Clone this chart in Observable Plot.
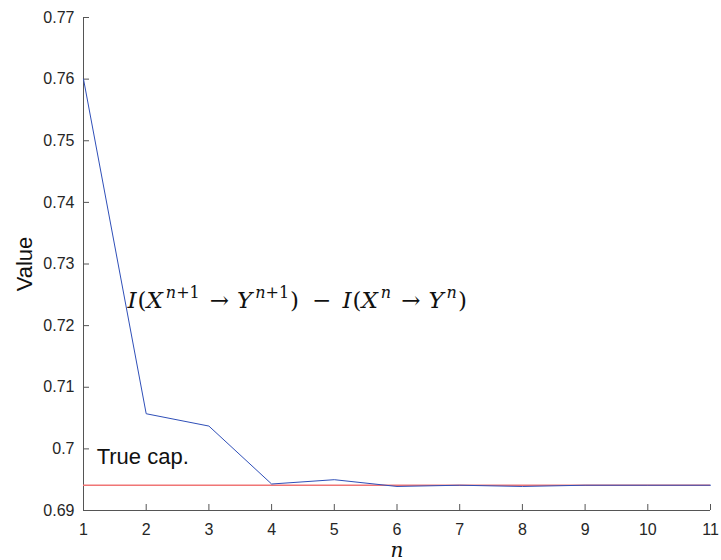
<!DOCTYPE html>
<html>
<head>
<meta charset="utf-8">
<script src="https://cdn.jsdelivr.net/npm/d3@7"></script>
<script src="https://cdn.jsdelivr.net/npm/@observablehq/plot@0.6"></script>
<style>
  html, body { margin: 0; padding: 0; background: #fff; }
  #chart svg { display: block; }
</style>
</head>
<body>
<div id="chart"></div>
<script>
// ---- data ----
const n = [1, 2, 3, 4, 5, 6, 7, 8, 9, 10, 11];
const value = [0.7600, 0.7057, 0.7037, 0.6943, 0.6950, 0.6939, 0.6941, 0.6939, 0.6941, 0.6941, 0.6941];
const trueCap = 0.6941;
const xTicks = [1, 2, 3, 4, 5, 6, 7, 8, 9, 10, 11];
const yTicks = [0.69, 0.70, 0.71, 0.72, 0.73, 0.74, 0.75, 0.76, 0.77];
const yTickLabels = ["0.69", "0.7", "0.71", "0.72", "0.73", "0.74", "0.75", "0.76", "0.77"];
const xLabel = "n";
const yLabel = "Value";
const capLabel = "True cap.";
const formulaPlain = "I(X^{n+1} → Y^{n+1}) − I(X^n → Y^n)";

const series = n.map((x, i) => ({n: x, value: value[i]}));
const axisColor = "#555";
const textColor = "#262626";
const blue = "#2f4fb8";
const red = "#f07575";
const serif = "'DejaVu Serif', 'Liberation Serif', serif";
const W = 721, H = 560, ML = 83, MR = 11, MT = 17, MB = 50;
const tickLen = 6;

const chart = Plot.plot({
  width: W,
  height: H,
  marginLeft: ML,
  marginRight: MR,
  marginTop: MT,
  marginBottom: MB,
  style: {fontFamily: "'Liberation Sans', Arial, sans-serif", fontSize: "16px", color: textColor, background: "#fff"},
  x: {domain: [1, 11], label: null},
  y: {domain: [0.69, 0.77], label: null},
  marks: [
    // axis lines
    Plot.ruleX([1], {stroke: axisColor, strokeWidth: 1}),
    Plot.ruleY([0.69], {stroke: axisColor, strokeWidth: 1}),
    // inward tick marks (rule from the top of the frame, inset down to a short tick)
    Plot.ruleX(xTicks, {x: d => d, y1: 0.77, y2: 0.69, insetTop: H - MT - MB - tickLen, stroke: axisColor, strokeWidth: 1}),
    Plot.ruleY(yTicks, {y: d => d, x1: 1, x2: 11, insetRight: W - ML - MR - tickLen, stroke: axisColor, strokeWidth: 1}),
    // tick labels
    Plot.axisX({ticks: xTicks, tickSize: 0, tickPadding: 13, tickFormat: d => String(d), fill: textColor, fontSize: 16, label: null}),
    Plot.axisY({ticks: yTicks, tickSize: 0, tickPadding: 9, tickFormat: d => yTickLabels[yTicks.findIndex(t => Math.abs(t - d) < 1e-9)], fill: textColor, fontSize: 16, label: null}),
    Plot.ruleY([trueCap], {x1: 1, x2: 11, stroke: red, strokeWidth: 1.5}),
    Plot.line(series, {x: "n", y: "value", stroke: blue, strokeWidth: 1}),
    Plot.text([capLabel], {x: 1.21, y: 0.6975, text: d => d, textAnchor: "start", lineAnchor: "bottom", fontSize: 22, fill: "#111"}),
    Plot.text([formulaPlain], {x: 1.70, y: 0.7228, text: d => d, textAnchor: "start", lineAnchor: "bottom", fontSize: 23, fill: "#111", fontFamily: serif}),
    Plot.text([yLabel], {frameAnchor: "left", dx: -52, text: d => d, rotate: -90, textAnchor: "middle", lineAnchor: "bottom", fontSize: 22, fill: "#111"}),
    Plot.text([xLabel], {frameAnchor: "bottom", dy: 46, text: d => d, textAnchor: "middle", lineAnchor: "bottom", fontSize: 20, fill: "#111", fontStyle: "italic", fontFamily: serif})
  ]
});

// Render the formula with italic letters, raised superscripts and math-like operator spacing
d3.select(chart).selectAll("text").filter(function() { return this.textContent === formulaPlain; }).each(function() {
  const t = d3.select(this);
  t.text(null);
  // [text, kind, gap before in px]
  const parts = [
    ["I", "i", 0], ["(", "r", 1], ["X", "i", 0], ["n", "si", 3], ["+1", "s", 0], ["→", "r", 10], ["Y", "i", 8], ["n", "si", 3], ["+1", "s", 0], [")", "r", 1],
    ["−", "r", 13], ["I", "i", 11], ["(", "r", 1], ["X", "i", 0], ["n", "si", 3], ["→", "r", 10], ["Y", "i", 8], ["n", "si", 3], [")", "r", 1]
  ];
  let sup = false;
  parts.forEach(([s, k, gap]) => {
    const isSup = k[0] === "s";
    const span = t.append("tspan").text(s);
    if (gap) span.attr("dx", gap);
    if (k.includes("i")) span.attr("font-style", "italic");
    if (isSup) span.attr("font-size", 16);
    if (isSup && !sup) span.attr("dy", -10);
    if (!isSup && sup) span.attr("dy", 10);
    sup = isSup;
  });
});

document.getElementById("chart").appendChild(chart);
</script>
</body>
</html>
